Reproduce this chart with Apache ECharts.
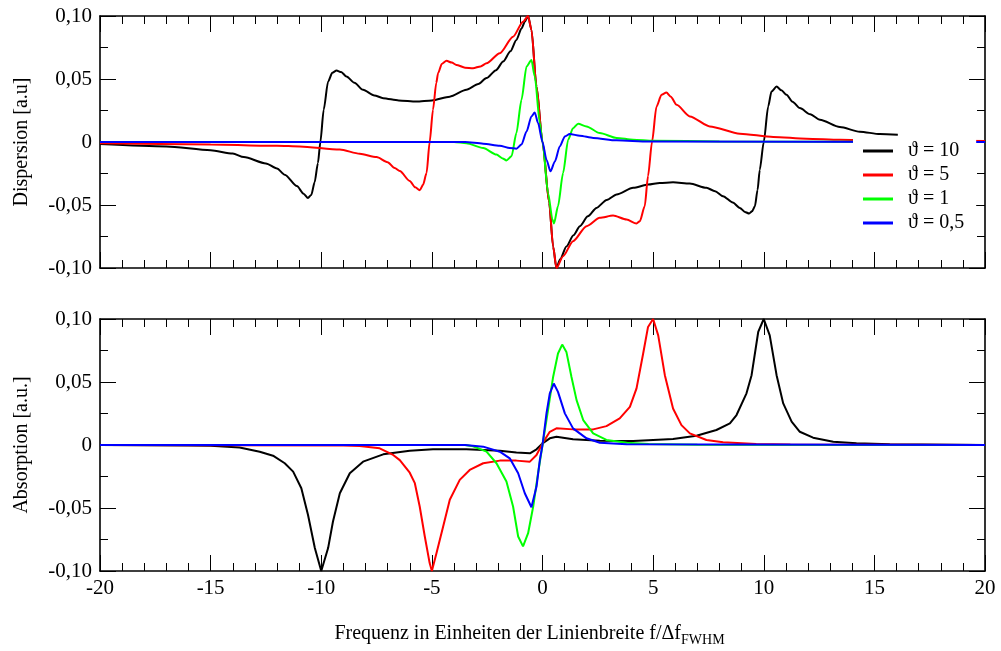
<!DOCTYPE html>
<html>
<head>
<meta charset="utf-8">
<script src="https://cdn.jsdelivr.net/npm/echarts@6/dist/echarts.min.js"></script>
<style>
html,body{margin:0;padding:0;background:#fff;}
#c{width:1001px;height:651px;}
</style>
</head>
<body>
<div id="c"></div>
<script>
// ---- data (x = f/Δf_FWHM, y = signal) ----
const seriesNames = ['ϑ = 10', 'ϑ = 5', 'ϑ = 1', 'ϑ = 0,5'];
const seriesColors = ['#000000', '#ff0000', '#00ff00', '#0000ff'];

const dispBlack = [[-20,-0.0016],[-17,-0.0035],[-15,-0.0066],[-14,-0.0092],[-13.5,-0.012],[-12.5,-0.017],[-12,-0.021],[-11.65,-0.026],[-11.1,-0.035],[-10.8,-0.041],[-10.6,-0.0444],[-10.45,-0.042],[-10.3,-0.032],[-10.15,-0.0167],[-10.04,0],[-9.89,0.0256],[-9.69,0.048],[-9.5,0.055],[-9.31,0.0567],[-9.1,0.0555],[-8.86,0.052],[-8.5,0.047],[-8.11,0.0414],[-7.6,0.037],[-7.2,0.0348],[-6.5,0.033],[-5.7,0.0322],[-5,0.033],[-4.19,0.036],[-3.44,0.0414],[-2.9,0.046],[-2.53,0.0507],[-2.1,0.057],[-1.78,0.0638],[-1.45,0.072],[-1.18,0.081],[-0.95,0.09],[-0.8,0.0955],[-0.65,0.1],[-0.5,0.089],[-0.27,0.044],[0,0],[0.3,-0.048],[0.48,-0.083],[0.63,-0.1],[0.8,-0.093],[1.08,-0.083],[1.4,-0.074],[1.69,-0.0668],[2.05,-0.059],[2.44,-0.0523],[2.9,-0.046],[3.35,-0.0417],[4.1,-0.0364],[4.77,-0.0338],[5.3,-0.0325],[5.9,-0.032],[6.66,-0.033],[7.41,-0.0364],[7.8,-0.039],[8.16,-0.043],[8.6,-0.048],[8.92,-0.0523],[9.15,-0.0555],[9.34,-0.0568],[9.47,-0.055],[9.6,-0.051],[9.72,-0.038],[9.82,-0.022],[10,0],[10.2,0.0282],[10.35,0.04],[10.58,0.044],[10.8,0.041],[11.03,0.0375],[11.3,0.032],[11.63,0.0269],[12.1,0.022],[12.54,0.0177],[13.44,0.0119],[14.34,0.0082],[15.25,0.0063],[16.06,0.0058]];
const dispRed = [[-20,-0.001],[-15,-0.002],[-12,-0.003],[-10.97,-0.0035],[-9.16,-0.006],[-8.26,-0.0093],[-7.5,-0.012],[-7,-0.016],[-6.68,-0.0206],[-6.45,-0.023],[-6,-0.031],[-5.75,-0.036],[-5.55,-0.0383],[-5.4,-0.034],[-5.24,-0.0246],[-5.1,0],[-4.95,0.0256],[-4.8,0.047],[-4.72,0.0546],[-4.55,0.062],[-4.34,0.0644],[-4.1,0.063],[-3.89,0.0612],[-3.5,0.059],[-3.14,0.0586],[-2.8,0.06],[-2.53,0.0625],[-1.93,0.0705],[-1.33,0.0836],[-0.88,0.0955],[-0.65,0.1],[-0.5,0.089],[-0.27,0.044],[0,0],[0.3,-0.048],[0.48,-0.083],[0.63,-0.1],[0.93,-0.0906],[1.38,-0.0787],[1.99,-0.0668],[2.59,-0.0602],[3.19,-0.0584],[3.8,-0.0615],[4.25,-0.0647],[4.4,-0.0628],[4.62,-0.051],[4.77,-0.027],[4.95,0],[5.15,0.028],[5.38,0.0375],[5.6,0.0393],[5.8,0.036],[6.06,0.0295],[6.66,0.0203],[7.56,0.0124],[8.92,0.0066],[10.43,0.004],[11.93,0.0026],[13.44,0.0018],[15,0.0014],[20,0.0008]];
const dispGreen = [[-20,0],[-4,0],[-3.44,-0.001],[-2.68,-0.0048],[-2.08,-0.01],[-1.8,-0.013],[-1.63,-0.0146],[-1.4,-0.0114],[-1.18,0.0071],[-0.95,0.0335],[-0.72,0.06],[-0.5,0.065],[-0.35,0.052],[-0.12,0.015],[0,0],[0.25,-0.0404],[0.45,-0.0615],[0.52,-0.0647],[0.7,-0.051],[0.93,-0.0246],[1.16,0.0018],[1.38,0.011],[1.61,0.0145],[1.99,0.0124],[2.59,0.0071],[3.35,0.0032],[4.1,0.0018],[5,0.001],[8,0.0004],[20,0]];
const dispBlue = [[-20,0],[-3.5,0],[-2.68,-0.0013],[-1.93,-0.003],[-1.48,-0.0048],[-1.18,-0.0053],[-0.95,-0.002],[-0.72,0.0084],[-0.5,0.0203],[-0.35,0.0235],[-0.2,0.015],[0,0],[0.18,-0.014],[0.36,-0.0233],[0.56,-0.0154],[0.78,-0.0035],[1.01,0.0044],[1.23,0.0063],[1.69,0.005],[2.29,0.0032],[3.35,0.0013],[4.8,0.0003],[20,0]];

const absBlack = [[-20,0],[-16,-0.0003],[-15,-0.0005],[-13.69,-0.002],[-12.78,-0.0053],[-12.18,-0.0085],[-11.65,-0.0145],[-11.27,-0.0211],[-10.9,-0.0343],[-10.6,-0.0554],[-10.29,-0.0818],[-10,-0.1],[-9.69,-0.0818],[-9.47,-0.0607],[-9.16,-0.0383],[-8.71,-0.0224],[-8.11,-0.0132],[-7.2,-0.0074],[-6,-0.0045],[-4.95,-0.0034],[-3.44,-0.0034],[-1.93,-0.0045],[-1.18,-0.006],[-0.57,-0.0066],[-0.27,-0.0034],[0,0.0013],[0.33,0.0053],[0.63,0.0066],[1.38,0.0045],[2.59,0.0034],[4.1,0.0032],[5.9,0.0048],[6.96,0.0074],[7.86,0.0119],[8.47,0.0172],[8.77,0.0238],[9.22,0.041],[9.45,0.0554],[9.75,0.0897],[10,0.1],[10.27,0.087],[10.58,0.0554],[10.88,0.033],[11.26,0.0185],[11.63,0.0105],[12.23,0.0058],[13.14,0.0026],[14.19,0.0013],[15.7,0.0005],[20,0]];
const absRed = [[-20,0],[-9,-0.0003],[-8.26,-0.0008],[-7.36,-0.0026],[-6.75,-0.0079],[-6.45,-0.012],[-6,-0.022],[-5.77,-0.0303],[-5.55,-0.0488],[-5.32,-0.0726],[-5.1,-0.0937],[-5,-0.1],[-4.79,-0.0858],[-4.49,-0.0647],[-4.19,-0.0435],[-3.74,-0.0277],[-3.29,-0.0198],[-2.68,-0.0145],[-1.93,-0.0124],[-1.18,-0.0124],[-0.57,-0.0132],[-0.27,-0.0079],[0,0.0013],[0.33,0.0105],[0.63,0.0132],[1.38,0.0124],[2.29,0.0124],[2.89,0.015],[3.49,0.0211],[3.95,0.0303],[4.25,0.0449],[4.55,0.0726],[4.77,0.0937],[5,0.1],[5.23,0.087],[5.53,0.0554],[5.9,0.029],[6.28,0.0158],[6.66,0.0092],[7.41,0.004],[8.16,0.0021],[9.66,0.0008],[11.2,0.0003],[20,0]];
const absGreen = [[-20,0],[-3.5,0],[-3.14,-0.001],[-2.53,-0.0053],[-2.08,-0.0145],[-1.63,-0.029],[-1.33,-0.0488],[-1.1,-0.0726],[-0.88,-0.0805],[-0.65,-0.07],[-0.42,-0.0488],[-0.2,-0.0224],[0,0],[0.25,0.0277],[0.48,0.054],[0.7,0.0726],[0.89,0.0797],[1.08,0.0739],[1.31,0.054],[1.54,0.0356],[1.84,0.0198],[2.29,0.0092],[2.89,0.004],[3.8,0.0018],[4.8,0.0008],[7,0.0002],[20,0]];
const absBlue = [[-20,0],[-3.5,0],[-2.68,-0.0013],[-1.93,-0.0053],[-1.48,-0.0106],[-1.1,-0.0224],[-0.8,-0.0383],[-0.5,-0.0494],[-0.27,-0.033],[-0.12,-0.0119],[0,0],[0.18,0.0251],[0.33,0.041],[0.51,0.0488],[0.7,0.0422],[1.01,0.0251],[1.38,0.0132],[1.99,0.0053],[2.59,0.0018],[3.8,0.0005],[20,0]];

const yTicks = [-0.1, -0.05, 0, 0.05, 0.1];
const yTickLabels = ['-0,10', '-0,05', '0', '0,05', '0,10'];
const xTitle = 'Frequenz in Einheiten der Linienbreite f/Δf';
const xTitleSub = 'FWHM';
const yTitleTop = 'Dispersion [a.u]';
const yTitleBottom = 'Absorption [a.u.]';

// ---- chart ----
const FONT = '"Liberation Serif", "Times New Roman", "DejaVu Serif", serif';
const chart = echarts.init(document.getElementById('c'), null, {renderer: 'canvas'});

function yLabel(v) {
  let best = 0, bd = Infinity;
  yTicks.forEach((t, i) => { const d = Math.abs(t - v); if (d < bd) { bd = d; best = i; } });
  return yTickLabels[best];
}
function baseAxis(extra) {
  return Object.assign({
    type: 'value',
    axisLine: {show: true, onZero: false, lineStyle: {color: '#000', width: 1.6}},
    axisTick: {show: true, inside: true, length: 16, lineStyle: {color: '#000', width: 1}},
    minorTick: {show: true, length: 8, lineStyle: {color: '#000', width: 1}},
    splitLine: {show: false},
    minorSplitLine: {show: false},
    axisLabel: {show: false}
  }, extra);
}
function xAx(grid, pos, labels) {
  const a = baseAxis({gridIndex: grid, position: pos, min: -20, max: 20, interval: 5});
  a.minorTick.splitNumber = 5;
  if (labels) {
    a.axisLabel = {show: true, fontFamily: FONT, fontSize: 21, color: '#000', margin: 7};
    a.name = '{a|' + xTitle + '}{b|' + xTitleSub + '}';
    a.nameLocation = 'middle';
    a.nameGap = 50;
    a.nameTextStyle = {
      padding: [0, 26, 0, 0],
      rich: {
        a: {fontFamily: FONT, fontSize: 20, color: '#000'},
        b: {fontFamily: FONT, fontSize: 14, color: '#000', padding: [12, 0, 0, 0]}
      }
    };
  }
  return a;
}
function yAx(grid, pos, title) {
  const a = baseAxis({gridIndex: grid, position: pos, min: -0.1, max: 0.1, interval: 0.05});
  a.minorTick.splitNumber = 2;
  if (title) {
    a.axisLabel = {show: true, fontFamily: FONT, fontSize: 21, color: '#000', margin: 8, formatter: yLabel};
    a.name = title;
    a.nameLocation = 'middle';
    a.nameGap = 68;
    a.nameTextStyle = {fontFamily: FONT, fontSize: 20, color: '#000'};
  }
  return a;
}

const topData = [dispBlack, dispRed, dispGreen, dispBlue];
const botData = [absBlack, absRed, absGreen, absBlue];
const series = [];
topData.forEach((d, i) => series.push({
  name: seriesNames[i], type: 'line', xAxisIndex: 0, yAxisIndex: 0, data: d,
  symbol: 'none', smooth: 0.25, smoothMonotone: 'x', clip: true,
  lineStyle: {color: seriesColors[i], width: 2}, itemStyle: {color: seriesColors[i]}
}));
botData.forEach((d, i) => series.push({
  name: seriesNames[i], type: 'line', xAxisIndex: 2, yAxisIndex: 2, data: d,
  symbol: 'none', smooth: false, clip: true,
  lineStyle: {color: seriesColors[i], width: 2}, itemStyle: {color: seriesColors[i]}
}));

chart.setOption({
  animation: false,
  backgroundColor: '#fff',
  grid: [
    {left: 100, top: 16, width: 885, height: 252},
    {left: 100, top: 319, width: 885, height: 252}
  ],
  xAxis: [xAx(0, 'bottom', false), xAx(0, 'top', false), xAx(1, 'bottom', true), xAx(1, 'top', false)],
  yAxis: [yAx(0, 'left', yTitleTop), yAx(0, 'right', null), yAx(1, 'left', yTitleBottom), yAx(1, 'right', null)],
  legend: {
    orient: 'vertical', left: 853, top: 137,
    backgroundColor: '#fff', padding: [4, 12, 4, 10],
    icon: 'rect', itemWidth: 30, itemHeight: 3, itemGap: 4,
    selectedMode: false,
    textStyle: {fontFamily: FONT, fontSize: 20, color: '#000', lineHeight: 20, padding: [0, 0, 0, 10]},
    data: seriesNames
  },
  series: series
});
</script>
</body>
</html>
